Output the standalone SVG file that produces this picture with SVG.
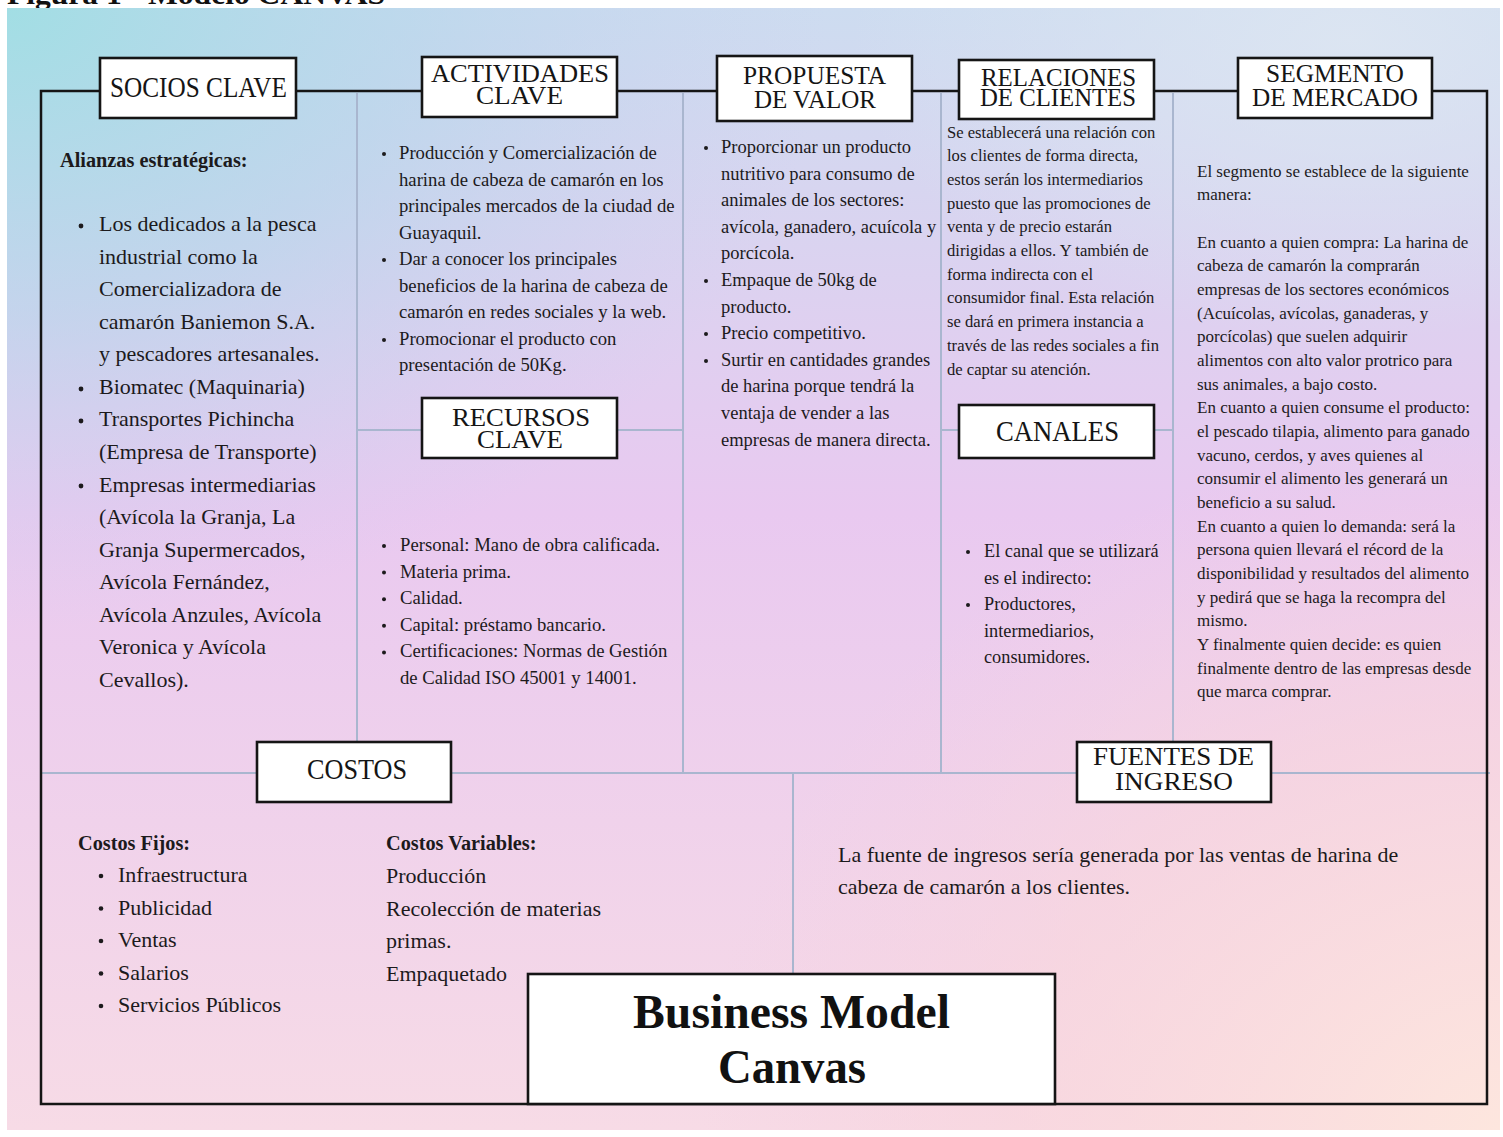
<svg xmlns="http://www.w3.org/2000/svg" width="1503" height="1137" viewBox="0 0 1503 1137">
<defs>
<linearGradient id="bgv" x1="0" y1="0" x2="0" y2="1">
<stop offset="0" stop-color="#cddcf0"/>
<stop offset="0.45" stop-color="#e9c9f0"/>
<stop offset="1" stop-color="#f7dbe6"/>
</linearGradient>
<radialGradient id="cyan" cx="0" cy="0" r="1" gradientUnits="userSpaceOnUse" gradientTransform="translate(7 8) scale(820 620)">
<stop offset="0" stop-color="#a2dee4" stop-opacity="1"/>
<stop offset="0.5" stop-color="#b4d6ea" stop-opacity="0.6"/>
<stop offset="1" stop-color="#c8d0ee" stop-opacity="0"/>
</radialGradient>
<radialGradient id="peach" cx="0" cy="0" r="1" gradientUnits="userSpaceOnUse" gradientTransform="translate(1500 1130) scale(800 700)">
<stop offset="0" stop-color="#fde6de" stop-opacity="1"/>
<stop offset="0.6" stop-color="#f9d6dc" stop-opacity="0.6"/>
<stop offset="1" stop-color="#f6d0e0" stop-opacity="0"/>
</radialGradient>
<radialGradient id="topr" cx="0" cy="0" r="1" gradientUnits="userSpaceOnUse" gradientTransform="translate(1350 40) scale(500 300)">
<stop offset="0" stop-color="#dde6f2" stop-opacity="0.9"/>
<stop offset="1" stop-color="#dde6f2" stop-opacity="0"/>
</radialGradient>
<style>
.frame{fill:none;stroke:#151515;stroke-width:2.5}
.div{fill:none;stroke:#a9b6cf;stroke-width:2}
.box{fill:#ffffff;stroke:#151515;stroke-width:2.6}
.h{font-family:"Liberation Serif","Times New Roman",serif;font-size:29px;fill:#151515}
.h2{font-family:"Liberation Serif","Times New Roman",serif;font-size:26px;fill:#151515}
.tt{font-family:"Liberation Serif","Times New Roman",serif;font-weight:bold;font-size:48px;fill:#111}
.b{font-family:"Liberation Serif","Times New Roman",serif;fill:#1c1a1c}
.s22{font-size:22px}
.s187{font-size:18.7px}
.s185{font-size:18.5px}
.s183{font-size:18.3px}
.s166{font-size:16.6px}
.s17{font-size:17px}
.bold{font-weight:bold;font-size:20.3px}
.dot{fill:#1c1a1c}
</style>
</defs>
<rect x="0" y="0" width="1503" height="1137" fill="#ffffff"/>
<text x="7" y="4" font-family="Liberation Serif, serif" font-weight="bold" font-size="30" fill="#111" textLength="378" lengthAdjust="spacingAndGlyphs">Figura 1 - Modelo CANVAS</text>
<rect x="7" y="8" width="1493" height="1122" fill="url(#bgv)"/>
<rect x="7" y="8" width="1493" height="1122" fill="url(#cyan)"/>
<rect x="7" y="8" width="1493" height="1122" fill="url(#topr)"/>
<rect x="7" y="8" width="1493" height="1122" fill="url(#peach)"/>

<g id="connectors">
<line class="div" x1="357" y1="93" x2="357" y2="773"/>
<line class="div" x1="683" y1="93" x2="683" y2="773"/>
<line class="div" x1="941" y1="93" x2="941" y2="773"/>
<line class="div" x1="1173" y1="93" x2="1173" y2="773"/>
<line class="div" x1="357" y1="430" x2="683" y2="430"/>
<line class="div" x1="941" y1="430" x2="1173" y2="430"/>
<line class="div" x1="42" y1="773" x2="1490" y2="773"/>
<line class="div" x1="793" y1="773" x2="793" y2="975"/>
<path class="frame" d="M41 1104 V91 H1487 V1104 Z"/>
</g>

<g id="socios-clave">
<rect class="box" x="100" y="58" width="196" height="60"/>
<text class="h" x="110" y="97" textLength="177" lengthAdjust="spacingAndGlyphs">SOCIOS CLAVE</text>
<text class="b bold" x="60" y="167">Alianzas estratégicas:</text>
<circle class="dot" cx="81" cy="226" r="2.4"/>
<circle class="dot" cx="81" cy="389" r="2.4"/>
<circle class="dot" cx="81" cy="421" r="2.4"/>
<circle class="dot" cx="81" cy="486" r="2.4"/>
<text class="b s22" x="99">
<tspan x="99" y="231">Los dedicados a la pesca</tspan>
<tspan x="99" y="263.6">industrial como la</tspan>
<tspan x="99" y="296.1">Comercializadora de</tspan>
<tspan x="99" y="328.7">camarón Baniemon S.A.</tspan>
<tspan x="99" y="361.3">y pescadores artesanales.</tspan>
<tspan x="99" y="393.9">Biomatec (Maquinaria)</tspan>
<tspan x="99" y="426.4">Transportes Pichincha</tspan>
<tspan x="99" y="459">(Empresa de Transporte)</tspan>
<tspan x="99" y="491.6">Empresas intermediarias</tspan>
<tspan x="99" y="524.1">(Avícola la Granja, La</tspan>
<tspan x="99" y="556.7">Granja Supermercados,</tspan>
<tspan x="99" y="589.3">Avícola Fernández,</tspan>
<tspan x="99" y="621.8">Avícola Anzules, Avícola</tspan>
<tspan x="99" y="654.4">Veronica y Avícola</tspan>
<tspan x="99" y="687">Cevallos).</tspan>
</text>
</g>

<g id="actividades-clave">
<rect class="box" x="422" y="57" width="195" height="60"/>
<text class="h2" x="431" y="82" textLength="178" lengthAdjust="spacingAndGlyphs">ACTIVIDADES</text>
<text class="h2" x="476" y="104" textLength="87" lengthAdjust="spacingAndGlyphs">CLAVE</text>
<circle class="dot" cx="384" cy="154" r="2"/>
<circle class="dot" cx="384" cy="260" r="2"/>
<circle class="dot" cx="384" cy="340" r="2"/>
<text class="b s187">
<tspan x="399" y="159">Producción y Comercialización de</tspan>
<tspan x="399" y="185.5">harina de cabeza de camarón en los</tspan>
<tspan x="399" y="212">principales mercados de la ciudad de</tspan>
<tspan x="399" y="238.5">Guayaquil.</tspan>
<tspan x="399" y="265">Dar a conocer los principales</tspan>
<tspan x="399" y="291.5">beneficios de la harina de cabeza de</tspan>
<tspan x="399" y="318">camarón en redes sociales y la web.</tspan>
<tspan x="399" y="344.5">Promocionar el producto  con</tspan>
<tspan x="399" y="371">presentación de 50Kg.</tspan>
</text>
</g>

<g id="recursos-clave">
<rect class="box" x="422" y="398" width="195" height="60"/>
<text class="h2" x="452" y="426" textLength="138" lengthAdjust="spacingAndGlyphs">RECURSOS</text>
<text class="h2" x="477" y="448" textLength="86" lengthAdjust="spacingAndGlyphs">CLAVE</text>
<circle class="dot" cx="384" cy="546" r="2"/>
<circle class="dot" cx="384" cy="572.6" r="2"/>
<circle class="dot" cx="384" cy="599.2" r="2"/>
<circle class="dot" cx="384" cy="625.8" r="2"/>
<circle class="dot" cx="384" cy="652.4" r="2"/>
<text class="b s187">
<tspan x="400" y="551">Personal: Mano de obra calificada.</tspan>
<tspan x="400" y="577.6">Materia prima.</tspan>
<tspan x="400" y="604.2">Calidad.</tspan>
<tspan x="400" y="630.8">Capital: préstamo bancario.</tspan>
<tspan x="400" y="657.4">Certificaciones: Normas de Gestión</tspan>
<tspan x="400" y="684">de Calidad ISO 45001 y 14001.</tspan>
</text>
</g>

<g id="propuesta-de-valor">
<rect class="box" x="717" y="56" width="195" height="65"/>
<text class="h2" x="743" y="84" textLength="143" lengthAdjust="spacingAndGlyphs">PROPUESTA</text>
<text class="h2" x="754" y="108" textLength="122" lengthAdjust="spacingAndGlyphs">DE VALOR</text>
<circle class="dot" cx="706" cy="148" r="2"/>
<circle class="dot" cx="706" cy="281" r="2"/>
<circle class="dot" cx="706" cy="334" r="2"/>
<circle class="dot" cx="706" cy="361" r="2"/>
<text class="b s185">
<tspan x="721" y="153">Proporcionar un producto</tspan>
<tspan x="721" y="179.6">nutritivo para consumo de</tspan>
<tspan x="721" y="206.2">animales de los sectores:</tspan>
<tspan x="721" y="232.8">avícola, ganadero, acuícola y</tspan>
<tspan x="721" y="259.4">porcícola.</tspan>
<tspan x="721" y="286">Empaque de 50kg de</tspan>
<tspan x="721" y="312.6">producto.</tspan>
<tspan x="721" y="339.2">Precio competitivo.</tspan>
<tspan x="721" y="365.8">Surtir en cantidades grandes</tspan>
<tspan x="721" y="392.4">de harina porque tendrá la</tspan>
<tspan x="721" y="419">ventaja de vender a las</tspan>
<tspan x="721" y="445.6">empresas de manera directa.</tspan>
</text>
</g>

<g id="relaciones-de-clientes">
<rect class="box" x="959" y="60" width="195" height="59"/>
<text class="h2" x="981" y="86" textLength="155" lengthAdjust="spacingAndGlyphs">RELACIONES</text>
<text class="h2" x="980" y="106" textLength="156" lengthAdjust="spacingAndGlyphs">DE CLIENTES</text>
<text class="b s166">
<tspan x="947" y="137.5">Se establecerá una relación con</tspan>
<tspan x="947" y="161.2">los clientes de forma directa,</tspan>
<tspan x="947" y="184.9">estos serán los intermediarios</tspan>
<tspan x="947" y="208.6">puesto que las promociones de</tspan>
<tspan x="947" y="232.3">venta y de precio estarán</tspan>
<tspan x="947" y="256">dirigidas a ellos. Y también de</tspan>
<tspan x="947" y="279.7">forma indirecta con el</tspan>
<tspan x="947" y="303.4">consumidor final. Esta relación</tspan>
<tspan x="947" y="327.1">se dará en primera instancia a</tspan>
<tspan x="947" y="350.8">través de las redes sociales a fin</tspan>
<tspan x="947" y="374.5">de captar su atención.</tspan>
</text>
</g>

<g id="canales">
<rect class="box" x="959" y="405" width="195" height="53"/>
<text class="h" x="996" y="441" textLength="123" lengthAdjust="spacingAndGlyphs">CANALES</text>
<circle class="dot" cx="968" cy="552" r="2"/>
<circle class="dot" cx="968" cy="605" r="2"/>
<text class="b s183">
<tspan x="984" y="557">El canal que se utilizará</tspan>
<tspan x="984" y="583.5">es el indirecto:</tspan>
<tspan x="984" y="610">Productores,</tspan>
<tspan x="984" y="636.5">intermediarios,</tspan>
<tspan x="984" y="663">consumidores.</tspan>
</text>
</g>

<g id="segmento-de-mercado">
<rect class="box" x="1238" y="58" width="194" height="60"/>
<text class="h2" x="1266" y="82" textLength="138" lengthAdjust="spacingAndGlyphs">SEGMENTO</text>
<text class="h2" x="1252" y="106" textLength="166" lengthAdjust="spacingAndGlyphs">DE MERCADO</text>
<text class="b s17">
<tspan x="1197" y="176.5">El segmento se establece de la siguiente</tspan>
<tspan x="1197" y="200.2">manera:</tspan>
<tspan x="1197" y="247.5">En cuanto a quien compra: La harina de</tspan>
<tspan x="1197" y="271.2">cabeza de camarón la comprarán</tspan>
<tspan x="1197" y="294.9">empresas de los sectores económicos</tspan>
<tspan x="1197" y="318.5">(Acuícolas, avícolas, ganaderas, y</tspan>
<tspan x="1197" y="342.2">porcícolas) que suelen adquirir</tspan>
<tspan x="1197" y="365.9">alimentos con alto valor protrico para</tspan>
<tspan x="1197" y="389.6">sus animales,  a bajo costo.</tspan>
<tspan x="1197" y="413.2">En cuanto a quien consume el producto:</tspan>
<tspan x="1197" y="436.9">el pescado tilapia, alimento para ganado</tspan>
<tspan x="1197" y="460.6">vacuno, cerdos, y aves quienes al</tspan>
<tspan x="1197" y="484.3">consumir el alimento les generará un</tspan>
<tspan x="1197" y="508">beneficio a su salud.</tspan>
<tspan x="1197" y="531.6">En cuanto a quien lo demanda: será la</tspan>
<tspan x="1197" y="555.3">persona quien llevará el récord de la</tspan>
<tspan x="1197" y="579">disponibilidad y resultados del alimento</tspan>
<tspan x="1197" y="602.7">y pedirá que se haga la recompra del</tspan>
<tspan x="1197" y="626.3">mismo.</tspan>
<tspan x="1197" y="650">Y finalmente quien decide: es quien</tspan>
<tspan x="1197" y="673.7">finalmente dentro de las empresas desde</tspan>
<tspan x="1197" y="697.4">que marca comprar.</tspan>
</text>
</g>

<g id="costos">
<rect class="box" x="257" y="742" width="194" height="60"/>
<text class="h" x="307" y="779" textLength="100" lengthAdjust="spacingAndGlyphs">COSTOS</text>
<text class="b bold" x="78" y="850">Costos Fijos:</text>
<circle class="dot" cx="101" cy="876" r="2.3"/>
<circle class="dot" cx="101" cy="908.5" r="2.3"/>
<circle class="dot" cx="101" cy="941" r="2.3"/>
<circle class="dot" cx="101" cy="973.5" r="2.3"/>
<circle class="dot" cx="101" cy="1006" r="2.3"/>
<text class="b s22">
<tspan x="118" y="882">Infraestructura</tspan>
<tspan x="118" y="914.5">Publicidad</tspan>
<tspan x="118" y="947">Ventas</tspan>
<tspan x="118" y="979.5">Salarios</tspan>
<tspan x="118" y="1012">Servicios Públicos</tspan>
</text>
<text class="b bold" x="386" y="850">Costos Variables:</text>
<text class="b s22">
<tspan x="386" y="883">Producción</tspan>
<tspan x="386" y="915.7">Recolección de materias</tspan>
<tspan x="386" y="948.4">primas.</tspan>
<tspan x="386" y="981">Empaquetado</tspan>
</text>
</g>

<g id="fuentes-de-ingreso">
<rect class="box" x="1077" y="742" width="194" height="60"/>
<text class="h2" x="1093" y="765" textLength="161" lengthAdjust="spacingAndGlyphs">FUENTES DE</text>
<text class="h2" x="1115" y="790" textLength="118" lengthAdjust="spacingAndGlyphs">INGRESO</text>
<text class="b s22">
<tspan x="838" y="862">La fuente de ingresos sería generada por las ventas de harina de</tspan>
<tspan x="838" y="894">cabeza de camarón a los clientes.</tspan>
</text>
</g>

<g id="business-model-canvas">
<rect class="box" x="528" y="974" width="527" height="130"/>
<text class="tt" x="633" y="1028" textLength="317" lengthAdjust="spacingAndGlyphs">Business Model</text>
<text class="tt" x="718" y="1083" textLength="148" lengthAdjust="spacingAndGlyphs">Canvas</text>
</g>
</svg>
